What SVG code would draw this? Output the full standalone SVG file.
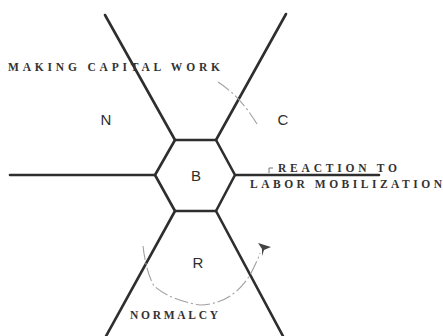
<svg xmlns="http://www.w3.org/2000/svg" width="443" height="336" viewBox="0 0 443 336">
<style>
.ln{stroke:#2e2e2e;stroke-width:2.6;fill:none;stroke-linecap:round;stroke-linejoin:round}
.arc{stroke:#a0a0a0;stroke-width:1.1;fill:none;stroke-dasharray:14 3 2 3}
.lab{font-family:"Liberation Serif",serif;font-size:11.5px;font-weight:bold;fill:#333333}
.big{font-family:"Liberation Sans",Arial,sans-serif;font-size:15px;fill:#2e2e2e;text-anchor:middle}
</style>
<rect width="443" height="336" fill="#ffffff"/>
<g id="connectors">
<path class="ln" d="M105 15 L175 140"/>
<path class="ln" d="M286 14 L216 140"/>
<path class="ln" d="M10 175 L155 175"/>
<path class="ln" d="M235 175 L379 175"/>
<path class="ln" d="M175 211 L105 338"/>
<path class="ln" d="M216 211 L284 338"/>
<path class="arc" d="M218 82 Q240 96 257 124"/>
<path class="arc" d="M143 246 Q146 272 154 286 Q170 300 200 305 Q232 304 250 275 Q257 262 260 253"/>
<polygon points="258,243 271,247 264,250 262,256 262,249" fill="#444"/>
<path d="M269 173 L269 168 L273 168" stroke="#666" stroke-width="0.9" fill="none"/>
</g>
<g id="B">
<polygon class="ln" points="175,140 216,140 235,175 216,211 175,211 155,175"/>
<text class="big" x="196" y="181">B</text>
</g>
<g id="N"><text class="big" x="106" y="125">N</text></g>
<g id="C"><text class="big" x="283" y="125">C</text></g>
<g id="R"><text class="big" x="198" y="268">R</text></g>
<g id="making-capital-work"><text class="lab" x="8" y="71" textLength="212" lengthAdjust="spacing">MAKING CAPITAL WORK</text></g>
<g id="reaction"><text class="lab" x="278" y="172" textLength="119" lengthAdjust="spacing">REACTION TO</text>
<text class="lab" x="250" y="188" textLength="192" lengthAdjust="spacing">LABOR MOBILIZATION</text></g>
<g id="normalcy"><text class="lab" x="130" y="319" textLength="88" lengthAdjust="spacing">NORMALCY</text></g>
</svg>
